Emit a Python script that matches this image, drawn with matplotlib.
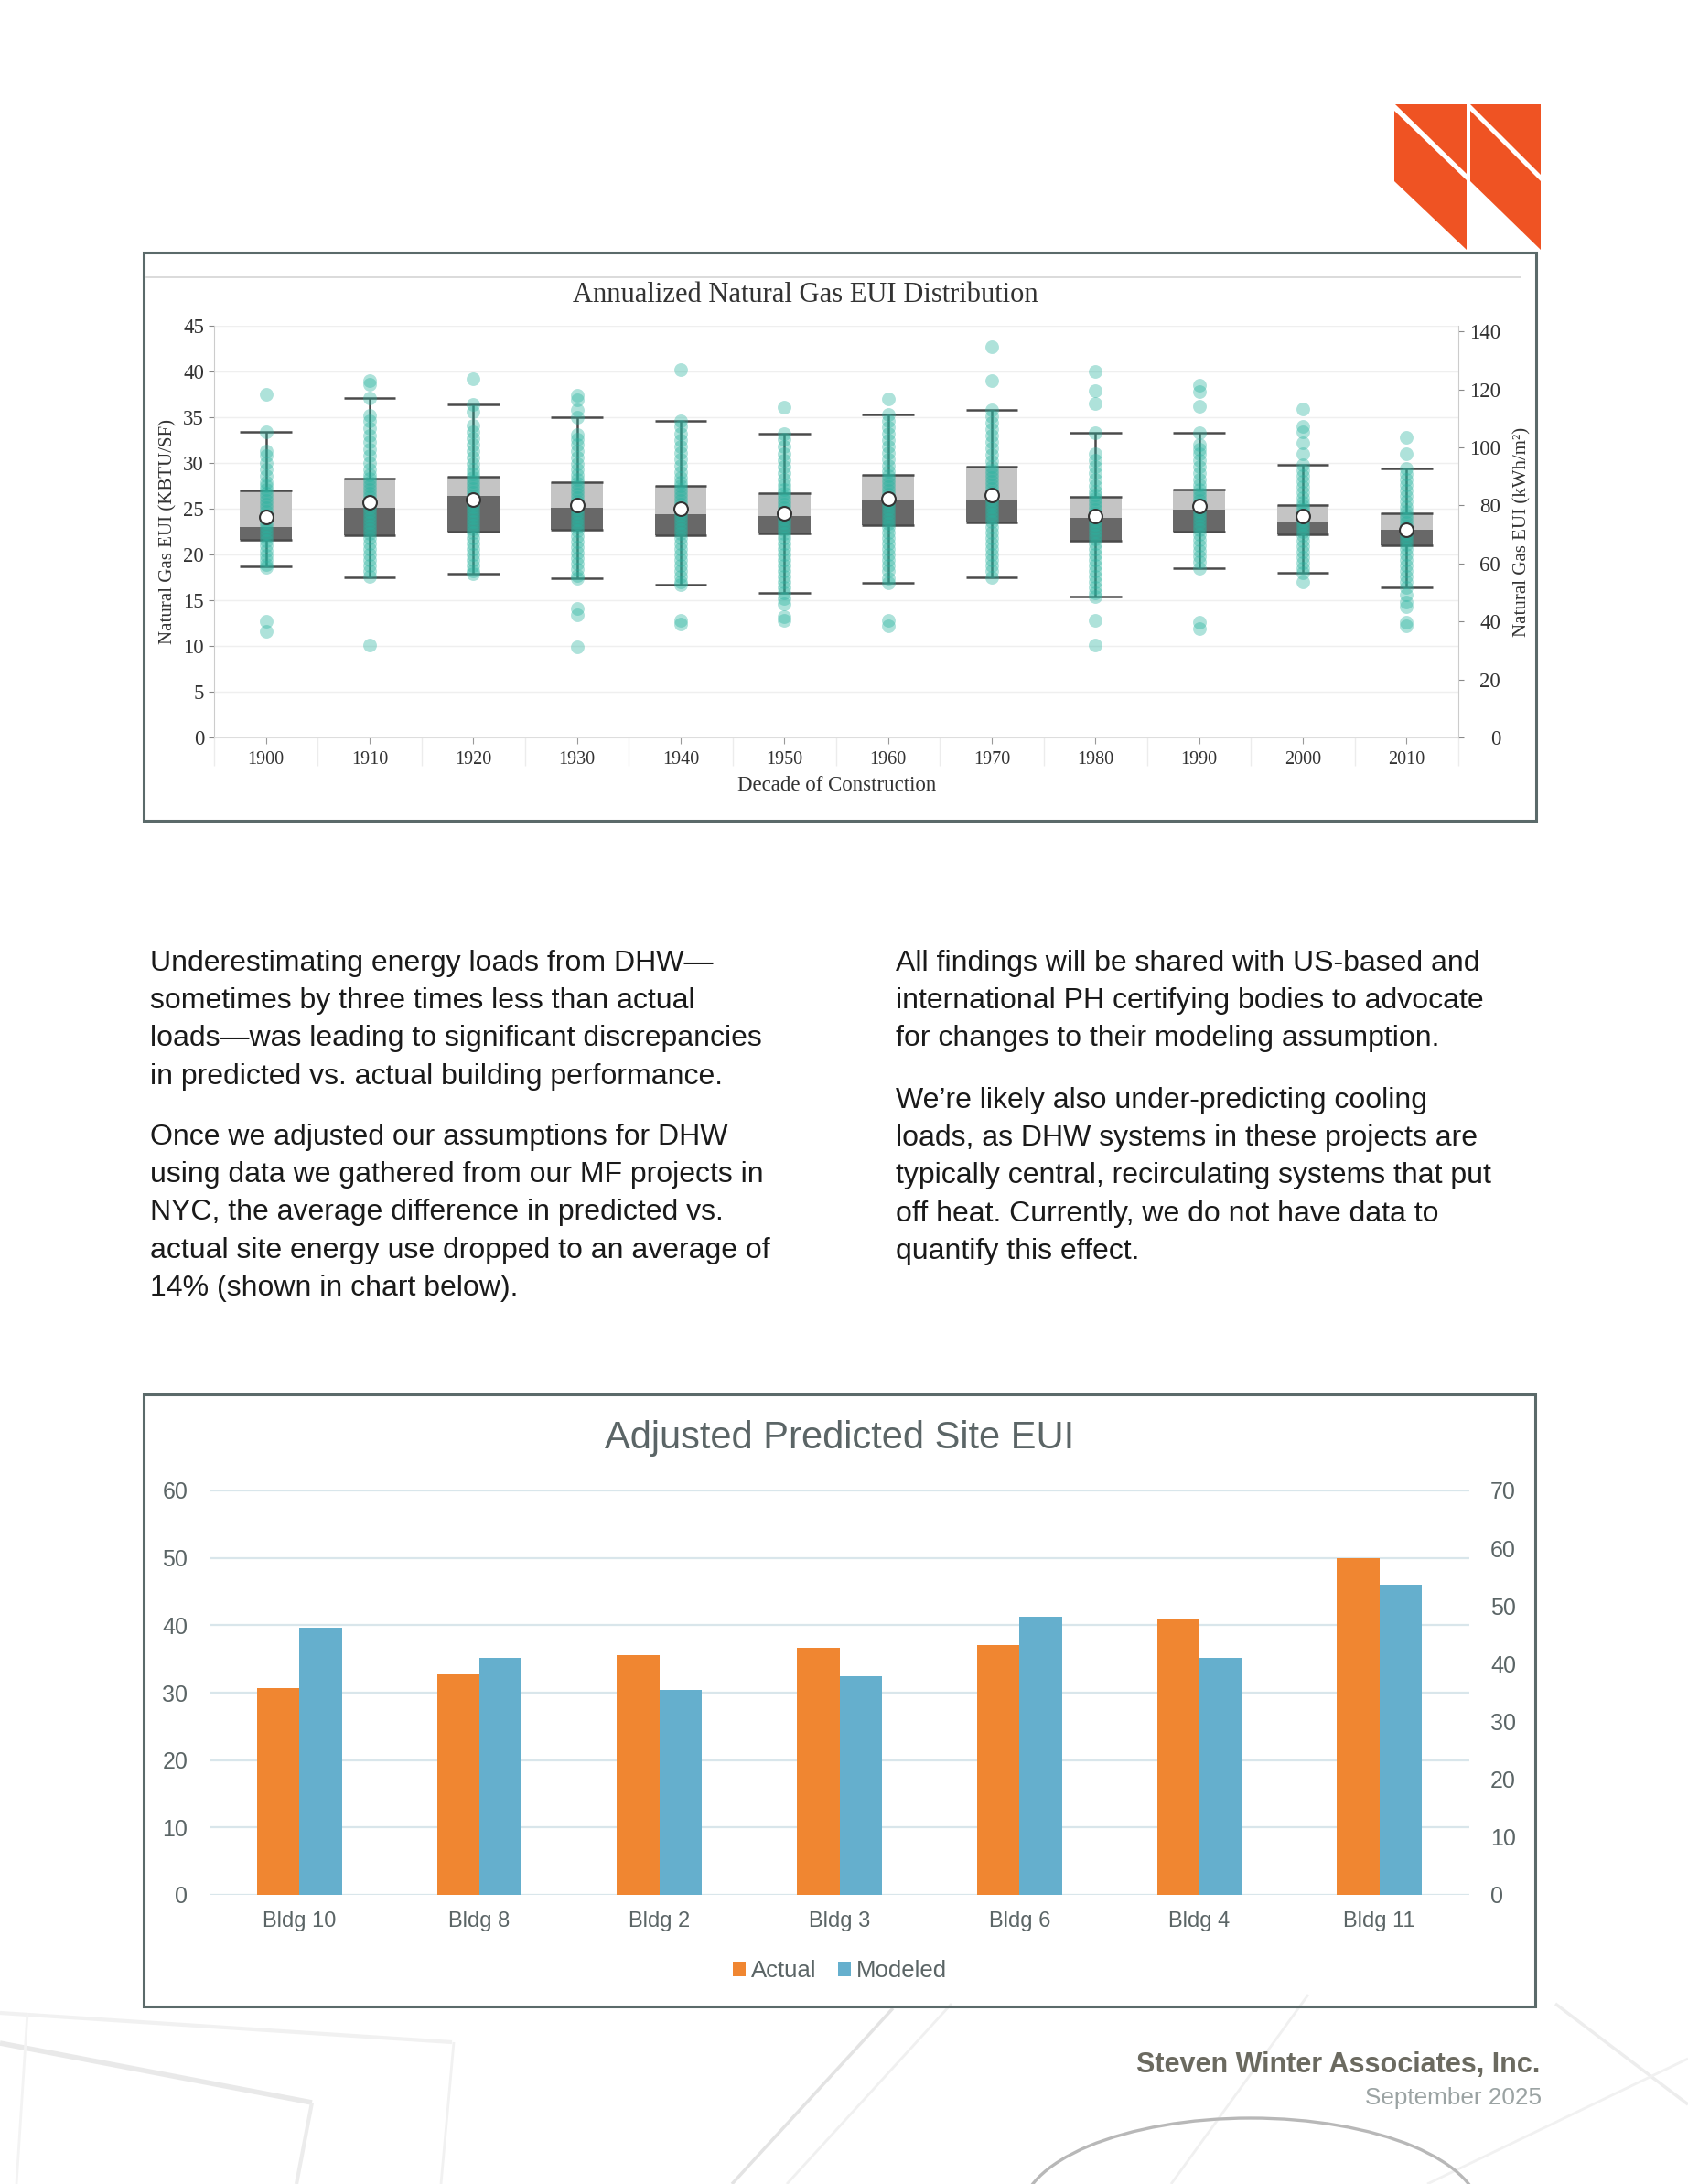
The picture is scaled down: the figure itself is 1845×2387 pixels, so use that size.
import numpy as np
import matplotlib.pyplot as plt
from matplotlib.patches import Polygon, Rectangle, Arc

W, H = 1845, 2387

# --- top chart: natural gas EUI by decade (kBtu/sf) ---
decades = ['1900', '1910', '1920', '1930', '1940', '1950',
           '1960', '1970', '1980', '1990', '2000', '2010']
whisk_lo = [18.7, 17.5, 17.9, 17.4, 16.7, 15.8, 16.9, 17.5, 15.4, 18.5, 18.0, 16.4]
q1 = [21.6, 22.1, 22.5, 22.7, 22.1, 22.3, 23.2, 23.5, 21.5, 22.5, 22.2, 21.0]
medians = [23.0, 25.1, 26.4, 25.1, 24.4, 24.2, 26.0, 26.0, 24.0, 24.9, 23.6, 22.7]
q3 = [27.0, 28.3, 28.5, 27.9, 27.5, 26.7, 28.7, 29.6, 26.3, 27.1, 25.4, 24.5]
whisk_hi = [33.4, 37.1, 36.4, 35.0, 34.6, 33.2, 35.3, 35.8, 33.3, 33.3, 29.8, 29.4]
means = [24.1, 25.7, 26.0, 25.4, 25.0, 24.5, 26.1, 26.5, 24.2, 25.3, 24.2, 22.7]

pts_1900 = [37.5, 33.4, 31.3, 30.8, 30.0, 29.3, 28.6, 27.9, 27.5, 27.1, 26.7, 26.3, 25.9,
            25.5, 25.1, 24.7, 24.3, 23.9, 23.5, 23.1, 22.7, 22.3, 21.9, 21.5, 21.0, 20.4,
            19.9, 19.4, 18.9, 18.6, 12.7, 11.6]
pts_1910 = [39.0, 38.6, 37.1, 35.2, 34.6, 33.8, 33.0, 32.3, 31.5, 30.8, 30.0, 29.3, 28.7,
            28.3, 27.9, 27.5, 27.1, 26.7, 26.3, 25.9, 25.5, 25.1, 24.7, 24.3, 23.9, 23.5,
            23.1, 22.7, 22.3, 21.8, 21.2, 20.6, 20.0, 19.4, 18.8, 18.2, 17.6, 10.1]
pts_1920 = [39.2, 36.4, 35.6, 34.1, 33.4, 32.7, 32.0, 31.3, 30.6, 29.9, 29.3, 28.8, 28.4,
            28.0, 27.6, 27.2, 26.8, 26.4, 26.0, 25.6, 25.2, 24.8, 24.4, 24.0, 23.6, 23.2,
            22.8, 22.4, 21.8, 21.2, 20.6, 20.0, 19.4, 18.8, 18.2, 17.9]
pts_1930 = [37.4, 36.9, 35.8, 35.0, 33.1, 32.6, 32.0, 31.3, 30.6, 29.9, 29.3, 28.7, 28.2,
            27.8, 27.4, 27.0, 26.6, 26.2, 25.8, 25.4, 25.0, 24.6, 24.2, 23.8, 23.4, 23.0,
            22.6, 22.0, 21.4, 20.8, 20.2, 19.6, 19.0, 18.4, 17.7, 17.4, 14.1, 13.4, 9.9]
pts_1940 = [40.2, 34.6, 34.0, 33.2, 32.5, 31.8, 31.1, 30.4, 29.7, 29.0, 28.4, 27.9, 27.5,
            27.1, 26.7, 26.3, 25.9, 25.5, 25.1, 24.7, 24.3, 23.9, 23.5, 23.1, 22.7, 22.3,
            21.8, 21.2, 20.6, 20.0, 19.4, 18.8, 18.2, 17.6, 17.0, 16.7, 12.8, 12.4]
pts_1950 = [36.1, 33.2, 32.6, 31.8, 31.0, 30.3, 29.6, 28.9, 28.2, 27.6, 27.1, 26.7, 26.3,
            25.9, 25.5, 25.1, 24.7, 24.3, 23.9, 23.5, 23.1, 22.7, 22.3, 21.8, 21.2, 20.6,
            20.0, 19.4, 18.8, 18.2, 17.6, 17.0, 16.4, 15.8, 15.2, 14.6, 13.2, 12.8]
pts_1960 = [37.0, 35.3, 34.6, 33.9, 33.2, 32.5, 31.8, 31.1, 30.4, 29.7, 29.1, 28.6, 28.2,
            27.8, 27.4, 27.0, 26.6, 26.2, 25.8, 25.4, 25.0, 24.6, 24.2, 23.8, 23.4, 23.0,
            22.4, 21.8, 21.2, 20.6, 20.0, 19.4, 18.8, 18.2, 17.4, 16.9, 12.8, 12.2]
pts_1970 = [42.7, 39.0, 35.8, 35.1, 34.4, 33.7, 33.0, 32.3, 31.6, 30.9, 30.2, 29.6, 29.2,
            28.8, 28.4, 28.0, 27.6, 27.2, 26.8, 26.4, 26.0, 25.6, 25.2, 24.8, 24.4, 24.0,
            23.6, 23.0, 22.4, 21.8, 21.2, 20.6, 20.0, 19.4, 18.8, 18.2, 17.5]
pts_1980 = [40.0, 37.9, 36.5, 33.3, 31.0, 30.3, 29.6, 28.9, 28.2, 27.5, 26.9, 26.5, 26.1,
            25.7, 25.3, 24.9, 24.5, 24.1, 23.7, 23.3, 22.9, 22.5, 22.1, 21.7, 21.2, 20.6,
            20.0, 19.4, 18.8, 18.2, 17.6, 17.0, 16.4, 15.8, 15.4, 12.8, 10.1]
pts_1990 = [38.5, 37.8, 36.2, 33.3, 32.0, 31.5, 31.0, 30.3, 29.6, 28.9, 28.2, 27.6, 27.1,
            26.7, 26.3, 25.9, 25.5, 25.1, 24.7, 24.3, 23.9, 23.5, 23.1, 22.7, 22.2, 21.6,
            21.0, 20.4, 19.8, 19.2, 18.5, 12.6, 11.9]
pts_2000 = [35.9, 34.0, 33.4, 32.2, 31.0, 29.8, 29.2, 28.6, 28.0, 27.4, 26.8, 26.2, 25.7,
            25.3, 24.9, 24.5, 24.1, 23.7, 23.3, 22.9, 22.5, 22.1, 21.5, 20.9, 20.3, 19.7,
            19.1, 18.5, 18.0, 17.0]
pts_2010 = [32.8, 31.0, 29.4, 28.8, 28.2, 27.6, 27.0, 26.4, 25.8, 25.2, 24.7, 24.3, 23.9,
            23.5, 23.1, 22.7, 22.3, 21.9, 21.5, 21.1, 20.6, 20.0, 19.4, 18.8, 18.2, 17.6,
            17.0, 16.4, 15.6, 14.8, 14.3, 12.6, 12.2]
points = [pts_1900, pts_1910, pts_1920, pts_1930, pts_1940, pts_1950,
          pts_1960, pts_1970, pts_1980, pts_1990, pts_2000, pts_2010]

KBTU_TO_KWH = 3.155

# --- bottom chart: adjusted predicted site EUI ---
buildings = ['Bldg 10', 'Bldg 8', 'Bldg 2', 'Bldg 3', 'Bldg 6', 'Bldg 4', 'Bldg 11']
actual = [30.7, 32.7, 35.5, 36.6, 37.1, 40.9, 50.0]
modeled = [39.7, 35.2, 30.4, 32.4, 41.3, 35.2, 46.0]

# --- page text ---
left_para1 = ["Underestimating energy loads from DHW\u2014",
              "sometimes by three times less than actual",
              "loads\u2014was leading to significant discrepancies",
              "in predicted vs. actual building performance."]
left_para2 = ["Once we adjusted our assumptions for DHW",
              "using data we gathered from our MF projects in",
              "NYC, the average difference in predicted vs.",
              "actual site energy use dropped to an average of",
              "14% (shown in chart below)."]
right_para1 = ["All findings will be shared with US-based and",
               "international PH certifying bodies to advocate",
               "for changes to their modeling assumption."]
right_para2 = ["We\u2019re likely also under-predicting cooling",
               "loads, as DHW systems in these projects are",
               "typically central, recirculating systems that put",
               "off heat. Currently, we do not have data to",
               "quantify this effect."]

SERIF = 'Liberation Serif'
SANS = 'Liberation Sans'
BORDER = '#5b6a6a'
TEAL = '#2ab3a0'
ORANGE = '#f08631'
BLUE = '#65afcd'
XL_GRAY = '#5b6566'

fig = plt.figure(figsize=(W / 100, H / 100), dpi=100)

# page layer in pixel coordinates
bg = fig.add_axes([0, 0, 1, 1], zorder=0)
bg.set_xlim(0, W)
bg.set_ylim(H, 0)
bg.axis('off')

# faint architectural background
for xs, ys, c, lw in [([0, 494], [2200, 2232], '#f1f1f1', 3),
                      ([0, 341], [2233, 2298], '#e9e9e9', 4),
                      ([324, 341], [2387, 2298], '#ececec', 3),
                      ([482, 496], [2387, 2232], '#f1f1f1', 2),
                      ([18, 30], [2387, 2200], '#f3f3f3', 2),
                      ([800, 976], [2387, 2195], '#e3e3e3', 2.5),
                      ([860, 1040], [2387, 2190], '#f0f0f0', 2),
                      ([1280, 1430], [2387, 2180], '#f0f0f0', 2),
                      ([1700, 1845], [2190, 2300], '#ededed', 2.5),
                      ([1560, 1845], [2387, 2250], '#f1f1f1', 2)]:
    bg.plot(xs, ys, color=c, lw=lw, solid_capstyle='butt', zorder=0)
bg.add_patch(Arc((1367, 2420), 502, 210, theta1=180, theta2=360,
                 color='#b8b8b8', lw=2.4, zorder=1))

# logo
logo = '#ef5323'
for pts in [[(1525, 114), (1603, 114), (1603, 190)],
            [(1524, 121), (1603, 197), (1603, 273), (1524, 198)],
            [(1607, 114), (1684, 114), (1684, 191)],
            [(1607, 121), (1684, 198), (1684, 273), (1607, 198)]]:
    bg.add_patch(Polygon(pts, closed=True, color=logo, lw=0, zorder=2))

# chart frames
bg.add_patch(Rectangle((157, 276), 1679 - 157, 897 - 276, fill=False,
                       ec=BORDER, lw=2.2, zorder=3))
bg.add_patch(Rectangle((157, 1524), 1678 - 157, 2193 - 1524, fill=False,
                       ec=BORDER, lw=2.2, zorder=3))
bg.plot([160, 1662], [303, 303], color='#d4d4d4', lw=1.2, zorder=3)

# top chart texts
bg.text(880, 322, 'Annualized Natural Gas EUI Distribution', family=SERIF,
        fontsize=22, color='#333333', ha='center', va='center')
bg.text(915, 858, 'Decade of Construction', family=SERIF, fontsize=16.5,
        color='#333333', ha='center', va='center')
bg.text(184, 581, 'Natural Gas EUI (KBTU/SF)', family=SERIF, fontsize=15,
        color='#333333', ha='center', va='center', rotation=90)
bg.text(1664, 581, 'Natural Gas EUI (kWh/m\u00b2)', family=SERIF, fontsize=15,
        color='#333333', ha='center', va='center', rotation=90)

# bottom chart title
bg.text(918, 1572, 'Adjusted Predicted Site EUI', family=SANS, fontsize=30,
        color=XL_GRAY, ha='center', va='center')

# paragraphs
step = 41.2
for col_x, blocks in [(164, [(1053, left_para1), (1243, left_para2)]),
                      (979, [(1053, right_para1), (1203, right_para2)])]:
    for y0, lines in blocks:
        for i, line in enumerate(lines):
            bg.text(col_x, y0 + i * step, line, family=SANS, fontsize=23,
                    color='#1a1a1a', ha='left', va='center')

# footer
bg.text(1683, 2257, 'Steven Winter Associates, Inc.', family=SANS, fontsize=22,
        fontweight='bold', color='#6b6a60', ha='right', va='center')
bg.text(1685, 2293, 'September 2025', family=SANS, fontsize=18.8,
        color='#9ba3a3', ha='right', va='center')

# ---------------- top chart ----------------
ax = fig.add_axes([234 / W, 1 - 806 / H, (1594 - 234) / W, (806 - 356) / H], zorder=2)
ax.set_facecolor('none')
x = np.arange(len(decades))
q1a, meda, q3a = np.array(q1), np.array(medians), np.array(q3)
ax.bar(x, meda - q1a, bottom=q1a, width=0.5, color='#686868', zorder=2)
ax.bar(x, q3a - meda, bottom=meda, width=0.5, color='#c4c4c4', zorder=2)
line_kw = dict(color='#4a4a4a', lw=1.8, zorder=3)
ax.vlines(x, whisk_lo, q1, **line_kw)
ax.vlines(x, q3, whisk_hi, **line_kw)
ax.hlines(whisk_lo, x - 0.25, x + 0.25, **line_kw)
ax.hlines(whisk_hi, x - 0.25, x + 0.25, **line_kw)
ax.hlines(q1, x - 0.25, x + 0.25, **line_kw)
ax.hlines(q3, x - 0.25, x + 0.25, **line_kw)
for i, pts in enumerate(points):
    ax.scatter([i] * len(pts), pts, s=115, color=TEAL, alpha=0.38, lw=0, zorder=4)
ax.scatter(x, means, s=115, color='white', edgecolors='#333333', lw=1.5, zorder=5)

ax.set_xlim(-0.5, 11.5)
ax.set_ylim(0, 45)
ax.set_yticks(range(0, 46, 5))
ax.set_xticks(x)
ax.set_xticklabels(decades)
ax.set_xticks(np.arange(-0.5, 12, 1), minor=True)
ax.grid(axis='y', color='#efefef', lw=1, zorder=0)
ax.set_axisbelow(True)
for s in ['top', 'right']:
    ax.spines[s].set_visible(False)
ax.spines['left'].set_color('#cccccc')
ax.spines['bottom'].set_color('#dddddd')
ax.tick_params(axis='y', length=4.3, color='#888888', pad=3.6, labelsize=16.5,
               labelcolor='#333333', labelfontfamily=SERIF)
ax.tick_params(axis='x', which='major', length=5, color='#999999', pad=6,
               labelsize=14.5, labelcolor='#333333', labelfontfamily=SERIF)
ax.tick_params(axis='x', which='minor', length=22, color='#ececec', width=1)

ax2 = ax.twinx()
ax2.set_facecolor('none')
ax2.set_ylim(0, 45 * KBTU_TO_KWH)
ax2.set_yticks(range(0, 141, 20))
for s in ['top', 'left', 'bottom']:
    ax2.spines[s].set_visible(False)
ax2.spines['right'].set_color('#cccccc')
ax2.tick_params(axis='y', length=4.3, color='#888888', pad=29, labelsize=16.5,
                labelcolor='#333333', labelfontfamily=SERIF)
for lab in ax2.get_yticklabels():
    lab.set_horizontalalignment('right')

# ---------------- bottom chart ----------------
bx = fig.add_axes([229 / W, 1 - 2071 / H, (1606 - 229) / W, (2071 - 1629) / H], zorder=2)
bx.set_facecolor('none')
pos = np.arange(len(buildings))
bw = 0.236
b1 = bx.bar(pos - bw / 2, actual, width=bw, color=ORANGE, label='Actual', zorder=3)
b2 = bx.bar(pos + bw / 2, modeled, width=bw, color=BLUE, label='Modeled', zorder=3)
bx.set_xlim(-0.5, 6.5)
bx.set_ylim(0, 60)
bx.set_yticks(range(0, 61, 10))
bx.set_xticks(pos)
bx.set_xticklabels(buildings)
bx.grid(axis='y', color='#d9e6eb', lw=1.6, zorder=0)
bx.set_axisbelow(True)
for s in bx.spines.values():
    s.set_visible(False)
bx.tick_params(axis='y', length=0, pad=17, labelsize=18, labelcolor=XL_GRAY,
               labelfontfamily=SANS)
bx.tick_params(axis='x', length=0, pad=13, labelsize=17, labelcolor=XL_GRAY,
               labelfontfamily=SANS)

bx2 = bx.twinx()
bx2.set_ylim(0, 70)
bx2.set_yticks(range(0, 71, 10))
for s in bx2.spines.values():
    s.set_visible(False)
bx2.tick_params(axis='y', length=0, pad=16.5, labelsize=18, labelcolor=XL_GRAY,
                labelfontfamily=SANS)

bx.legend(handles=[b1, b2], loc='center', bbox_to_anchor=(918 / W, 1 - 2154 / H),
          bbox_transform=fig.transFigure, ncol=2, frameon=False,
          prop={'family': SANS, 'size': 18.5}, labelcolor=XL_GRAY,
          handlelength=0.55, handleheight=0.55, handletextpad=0.25,
          columnspacing=0.9)

fig.savefig('out.png', dpi=100)
